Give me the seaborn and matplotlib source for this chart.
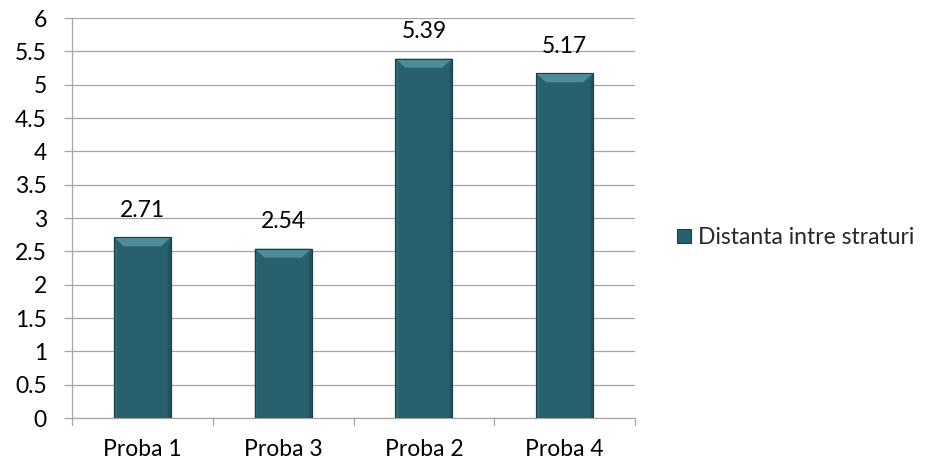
import matplotlib
matplotlib.use("Agg")
import matplotlib.pyplot as plt
from matplotlib.patches import Polygon, Patch
import seaborn as sns
import pandas as pd

categories = ["Proba 1", "Proba 3", "Proba 2", "Proba 4"]
values = [2.71, 2.54, 5.39, 5.17]
series_name = "Distanta intre straturi"
y_ticks = [0, 0.5, 1, 1.5, 2, 2.5, 3, 3.5, 4, 4.5, 5, 5.5, 6]
tick_labels = ["0", "0.5", "1", "1.5", "2", "2.5", "3", "3.5", "4", "4.5", "5", "5.5", "6"]

df = pd.DataFrame({"proba": categories, "distanta": values})

sns.set_theme(style="white")
plt.rcParams["font.family"] = ["Lato", "DejaVu Sans"]

FS = 16.5
body = "#28606E"
light = "#4F8C99"
mid = "#3A7583"
dark = "#17404B"
grid = "#A6A6A6"

fig = plt.figure(figsize=(9.36, 4.69), dpi=100)
ax = fig.add_axes([72 / 936, 51 / 469, 563 / 936, 400 / 469])

sns.barplot(data=df, x="proba", y="distanta", color=body, width=0.405,
            saturation=1, ax=ax, zorder=3, edgecolor=dark, linewidth=0.8)

ax.set_ylim(0, 6)
ax.set_xlim(-0.5, len(categories) - 0.5)
ax.set_yticks(y_ticks)
ax.set_yticklabels(tick_labels, fontsize=FS, color="#000000")
ax.set_xlabel("")
ax.set_ylabel("")
ax.yaxis.grid(True, color=grid, linewidth=0.9, zorder=0)
ax.set_axisbelow(True)
ax.tick_params(axis="y", length=6, color=grid, width=0.9, pad=12, left=True)

# category boundary ticks on the x axis
ax.set_xticks(list(range(len(categories))))
ax.set_xticklabels(categories, fontsize=FS, color="#000000")
ax.tick_params(axis="x", length=0, pad=15)
for b in [i - 0.5 for i in range(len(categories) + 1)]:
    ax.plot([b, b], [0, -0.1], color=grid, lw=0.9, clip_on=False, zorder=1)

for s in ["top", "right"]:
    ax.spines[s].set_visible(False)
for s in ["left", "bottom"]:
    ax.spines[s].set_color(grid)
    ax.spines[s].set_linewidth(0.9)

# bevel on top and sides of each bar
fig.canvas.draw()
inv = ax.transData.inverted()
px_x = inv.transform((10, 0))[0] - inv.transform((0, 0))[0]
px_y = inv.transform((0, 9))[1] - inv.transform((0, 0))[1]
for p in ax.patches:
    x0, w, h = p.get_x(), p.get_width(), p.get_height()
    x1 = x0 + w
    dx, dy = px_x, px_y
    ax.add_patch(Polygon([(x0, h), (x1, h), (x1 - dx, h - dy), (x0 + dx, h - dy)],
                         closed=True, facecolor=light, edgecolor="none", zorder=4))
    ax.add_patch(Polygon([(x0, h), (x0 + dx * 0.3, h - dy), (x0 + dx * 0.3, 0), (x0, 0)],
                         closed=True, facecolor=mid, edgecolor="none", zorder=4, alpha=0.5))
    ax.add_patch(Polygon([(x1, h), (x1 - dx * 0.3, h - dy), (x1 - dx * 0.3, 0), (x1, 0)],
                         closed=True, facecolor=dark, edgecolor="none", zorder=4, alpha=0.4))
    ax.add_patch(Polygon([(x0, 0), (x1, 0), (x1, h), (x0, h)], closed=True,
                         facecolor="none", edgecolor=dark, linewidth=0.8, zorder=5))

for i, v in enumerate(values):
    ax.annotate(f"{v:g}", (i, v), xytext=(0, 12), textcoords="offset points",
                ha="center", va="bottom", fontsize=FS, color="#000000")

handle = Patch(facecolor=body, edgecolor=dark, linewidth=0.8)
fig.legend([handle], [series_name], loc="center left", bbox_to_anchor=(677 / 936, 0.493),
           frameon=False, fontsize=FS, handlelength=0.6, handleheight=0.6,
           handletextpad=0.3, borderpad=0, borderaxespad=0)

fig.savefig("out.png", dpi=100, facecolor="white")
